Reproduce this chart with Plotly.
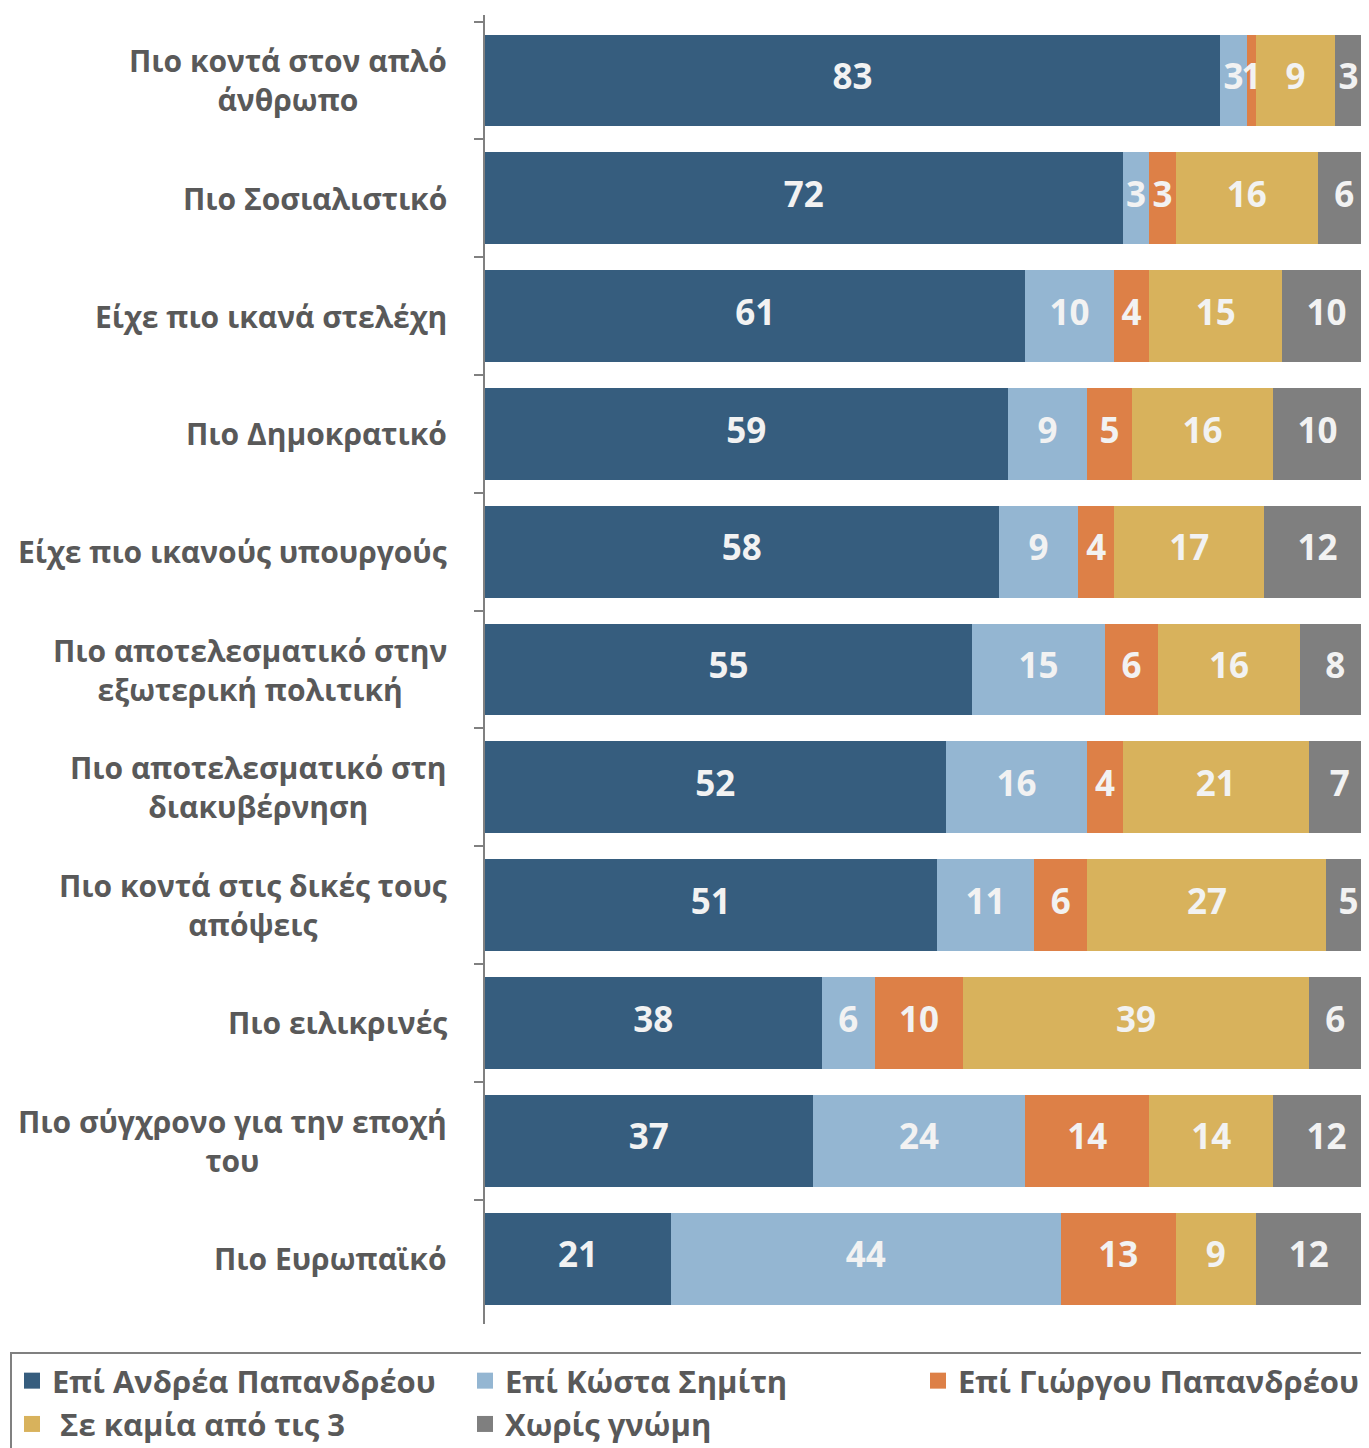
import plotly.graph_objects as go

# ── Dados ────────────────────────────────────────────────────────────────────
categories = [
    "Πιο κοντά στον απλό<br>άνθρωπο",
    "Πιο Σοσιαλιστικό",
    "Είχε πιο ικανά στελέχη",
    "Πιο Δημοκρατικό",
    "Είχε πιο ικανούς υπουργούς",
    "Πιο αποτελεσματικό στην<br>εξωτερική πολιτική",
    "Πιο αποτελεσματικό στη<br>διακυβέρνηση",
    "Πιο κοντά στις δικές τους<br>απόψεις",
    "Πιο ειλικρινές",
    "Πιο σύγχρονο για την εποχή<br>του",
    "Πιο Ευρωπαϊκό",
]

andreas = [83, 72, 61, 59, 58, 55, 52, 51, 38, 37, 21]
simitis = [3, 3, 10, 9, 9, 15, 16, 11, 6, 24, 44]
giorgos = [1, 3, 4, 5, 4, 6, 4, 6, 10, 14, 13]
kamia = [9, 16, 15, 16, 17, 16, 21, 27, 39, 14, 9]
gnomi = [3, 6, 10, 10, 12, 8, 7, 5, 6, 12, 12]

series_names = [
    "Επί Ανδρέα Παπανδρέου",
    "Επί Κώστα Σημίτη",
    "Επί Γιώργου Παπανδρέου",
    " Σε καμία από τις 3",
    "Χωρίς γνώμη",
]
series_values = [andreas, simitis, giorgos, kamia, gnomi]
colors = ["#365d7e", "#94b6d2", "#dd8047", "#d8b25c", "#7f7f7f"]

FONT = "Open Sans"
GRAY = "#595959"
AXIS = "#808080"

# a página tem 8px de margem no body
W, H = 1361, 1440
L, T = 477, 7
PLOT_BOTTOM = 1316
B = H - PLOT_BOTTOM
PLOT_W, PLOT_H = W - L, PLOT_BOTTOM - T

fig = go.Figure()

for name, vals, color in zip(series_names, series_values, colors):
    fig.add_trace(go.Bar(
        y=categories,
        x=vals,
        name=name,
        orientation="h",
        marker=dict(color=color, line=dict(width=0)),
        showlegend=False,
    ))

# rótulos no centro de cada segmento
base = [0] * len(categories)
for vals in series_values:
    centers = [b + v / 2 for b, v in zip(base, vals)]
    fig.add_trace(go.Scatter(
        y=categories,
        x=centers,
        mode="text",
        text=[str(v) for v in vals],
        textfont=dict(family=FONT, size=35, color="#f2f2f2", weight="bold"),
        showlegend=False,
        hoverinfo="skip",
    ))
    base = [b + v for b, v in zip(base, vals)]

# entradas da legenda com quadrados maiores
for name, color in zip(series_names, colors):
    fig.add_trace(go.Scatter(
        x=[None],
        y=[None],
        mode="markers",
        name=name,
        marker=dict(symbol="square", size=16, color=color),
    ))

# rótulos das categorias (linhas centralizadas)
for cat in categories:
    fig.add_annotation(
        x=0,
        xref="paper",
        y=cat,
        yref="y",
        text=cat,
        showarrow=False,
        xanchor="right",
        xshift=-36,
        align="center",
        font=dict(family=FONT, size=30, color=GRAY, weight="bold"),
    )

fig.update_layout(
    barmode="stack",
    bargap=0.22,
    width=W,
    height=H,
    margin=dict(l=L, r=0, t=T, b=B, autoexpand=False),
    plot_bgcolor="white",
    paper_bgcolor="white",
    font=dict(family=FONT, color=GRAY),
    xaxis=dict(
        range=[0, 99.8],
        visible=False,
        showgrid=False,
        zeroline=False,
    ),
    yaxis=dict(
        autorange="reversed",
        showline=True,
        linecolor=AXIS,
        linewidth=2,
        ticks="outside",
        tickson="boundaries",
        ticklen=9,
        tickwidth=2,
        tickcolor=AXIS,
        showticklabels=False,
        showgrid=False,
    ),
    legend=dict(
        orientation="h",
        xref="paper",
        yref="paper",
        x=(2 - L) / PLOT_W,
        y=-(1344 - PLOT_BOTTOM) / PLOT_H,
        xanchor="left",
        yanchor="top",
        bordercolor=AXIS,
        borderwidth=2,
        entrywidth=408,
        entrywidthmode="pixels",
        traceorder="normal",
        font=dict(family=FONT, size=31, color=GRAY, weight="bold"),
        itemsizing="trace",
    ),
)

fig.write_html("out.html")
